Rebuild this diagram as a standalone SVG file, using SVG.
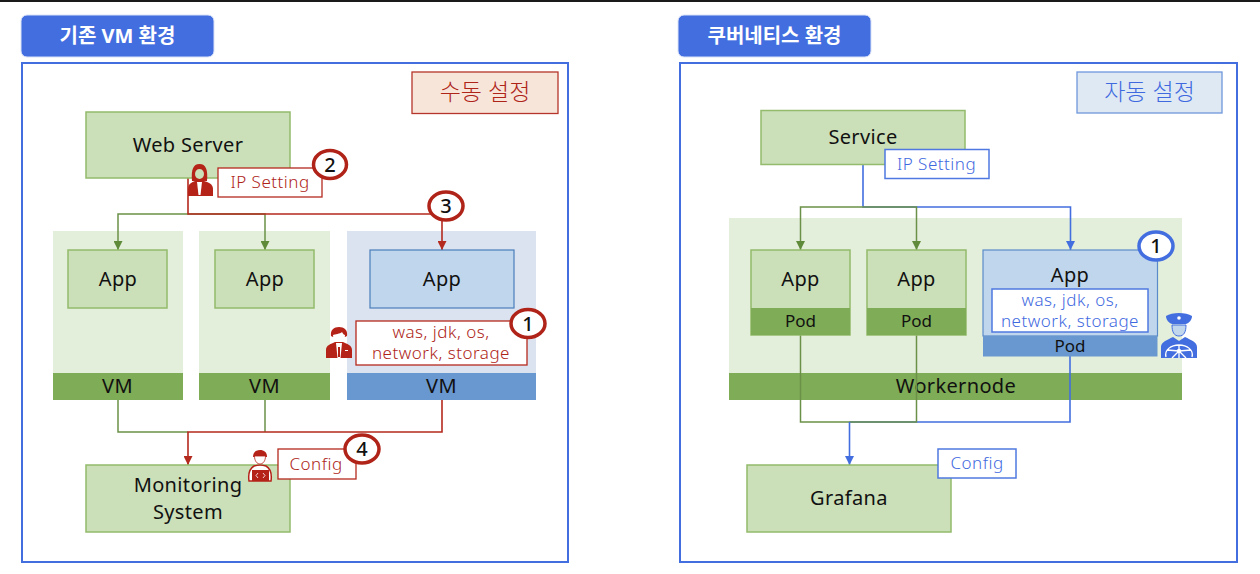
<svg xmlns="http://www.w3.org/2000/svg" width="1260" height="574" viewBox="0 0 1260 574">
<style>
text{font-family:"Noto Sans","Noto Sans CJK KR","Open Sans",sans-serif;text-anchor:middle;fill:#111}
.t{font-size:20px;letter-spacing:.35px}
.tab{fill:#436EE0;stroke:#D9E2F8;stroke-width:1}
.tabt{fill:#fff;font-size:20px;font-weight:700}
.frame{fill:#fff;stroke:#436EE0;stroke-width:2}
.node{fill:#CBDFB9;stroke:#93BB6B;stroke-width:1.5}
.pale{fill:#E3EFDB}
.paleb{fill:#DCE3F0}
.gbar{fill:#7FAC56}
.bbar{fill:#6998D0}
.bluen{fill:#C0D6EC;stroke:#4A7EBB;stroke-width:1.2}
.rb{fill:#fff;stroke:#B52A1E;stroke-width:1.3}
.bb{fill:#fff;stroke:#4F78E0;stroke-width:1.5}
.rt{fill:#AE2418;font-size:17px;letter-spacing:.5px;font-weight:300}
.bt{fill:#3F6ADF;font-size:17px;letter-spacing:.5px;font-weight:300}
.big{font-size:23px;font-weight:300}
.cr{fill:#fff;stroke:#B02318;stroke-width:3.5}
.cb{fill:#fff;stroke:#436EE0;stroke-width:3.5}
.n{font-size:20px;font-weight:500}
.pod{font-size:17px}
.g{fill:none;stroke:#6B9148;stroke-width:1.5}
.r{fill:none;stroke:#B52A1E;stroke-width:1.6}
.b{fill:none;stroke:#436EE0;stroke-width:1.6}
.ir{fill:#B52218}
.ib{fill:#436EE0}
</style>
<defs>
<marker id="ag" markerUnits="userSpaceOnUse" markerWidth="10" markerHeight="9" refX="9" refY="4.5" orient="auto"><path d="M0 0L9 4.500L0 9Z" fill="#5F8A3A"/></marker>
<marker id="ar" markerUnits="userSpaceOnUse" markerWidth="10" markerHeight="9" refX="9" refY="4.500" orient="auto"><path d="M0 0L9 4.500L0 9Z" fill="#B52A1E"/></marker>
<marker id="ab" markerUnits="userSpaceOnUse" markerWidth="10" markerHeight="9" refX="9" refY="4.500" orient="auto"><path d="M0 0L9 4.500L0 9Z" fill="#436EE0"/></marker>
</defs>
<rect width="1260" height="574" fill="#fff"/>
<rect width="1260" height="2" fill="#1A1A1A"/>

<g id="left-tab"><rect class="tab" x="21" y="15" width="193" height="42" rx="6"/><text class="tabt" x="117.500" y="43">기존 VM 환경</text></g>
<g id="left-frame"><rect class="frame" x="22" y="63" width="546" height="499"/></g>
<g id="right-tab"><rect class="tab" x="678" y="15" width="193" height="42" rx="6"/><text class="tabt" x="774.500" y="43">쿠버네티스 환경</text></g>
<g id="right-frame"><rect class="frame" x="680" y="63" width="557" height="499"/></g>

<g id="manual"><rect x="412" y="72" width="146" height="41.500" fill="#F8E5D9" stroke="#B5352A" stroke-width="1.300"/><text class="big" x="485" y="100" style="fill:#AE2418">수동 설정</text></g>
<g id="auto"><rect x="1077" y="72" width="145" height="41" fill="#DEE9F4" stroke="#6F97DC" stroke-width="1.300"/><text class="big" x="1149.500" y="100" style="fill:#3F6ADF">자동 설정</text></g>

<g id="vm1"><rect class="pale" x="53" y="231" width="130" height="169"/><rect class="gbar" x="53" y="373" width="130" height="27"/><text class="t" x="117.500" y="393">VM</text></g>
<g id="vm2"><rect class="pale" x="199" y="231" width="131" height="169"/><rect class="gbar" x="199" y="373" width="131" height="27"/><text class="t" x="264.500" y="393">VM</text></g>
<g id="vm3"><rect class="paleb" x="347" y="231" width="189" height="169"/><rect class="bbar" x="347" y="373" width="189" height="27"/><text class="t" x="441.500" y="393">VM</text></g>
<g id="workernode"><rect class="pale" x="729" y="218" width="453" height="182"/><rect class="gbar" x="729" y="373" width="453" height="27"/><text class="t" x="956" y="393">Workernode</text></g>

<g id="connectors">
<path class="g" d="M188 214H118V250" marker-end="url(#ag)"/>
<path class="g" d="M188 214H265V250" marker-end="url(#ag)"/>
<path class="r" d="M188 178V214H442V250" marker-end="url(#ar)"/>
<path class="g" d="M118 400V432H188"/>
<path class="g" d="M265 400V432"/>
<path class="r" d="M442 400V432H188V465" marker-end="url(#ar)"/>
<path class="b" d="M863 164V207H1070.500V250" marker-end="url(#ab)"/>
<path class="g" d="M863 207H800.500V250" marker-end="url(#ag)"/>
<path class="g" d="M863 207H916.500V250" marker-end="url(#ag)"/>
<path class="b" d="M849.500 422H1070V356"/>
<path class="g" d="M800.500 335V422H916.500V335"/>
<path class="b" d="M849.500 422V465" marker-end="url(#ab)"/>
</g>

<g id="web-server"><rect class="node" x="86" y="112" width="204" height="66"/><text class="t" x="188" y="152">Web Server</text></g>
<g id="app1"><rect class="node" x="68" y="250" width="99" height="58"/><text class="t" x="118" y="286">App</text></g>
<g id="app2"><rect class="node" x="215" y="250" width="99" height="58"/><text class="t" x="265" y="286">App</text></g>
<g id="app3"><rect class="bluen" x="370" y="250" width="144" height="58"/><text class="t" x="442" y="286">App</text></g>
<g id="monitoring"><rect class="node" x="86" y="465" width="204" height="67"/><text class="t" x="188" y="492">Monitoring</text><text class="t" x="188" y="519">System</text></g>

<g id="service"><rect class="node" x="761" y="110.500" width="204" height="54"/><text class="t" x="863" y="144">Service</text></g>
<g id="pod1"><rect class="node" x="751" y="250" width="99" height="85"/><rect class="gbar" x="751" y="308" width="99" height="27"/><text class="t" x="800.500" y="286">App</text><text class="pod" x="800.500" y="327">Pod</text></g>
<g id="pod2"><rect class="node" x="867" y="250" width="99" height="85"/><rect class="gbar" x="867" y="308" width="99" height="27"/><text class="t" x="916.500" y="286">App</text><text class="pod" x="916.500" y="327">Pod</text></g>
<g id="pod3"><rect x="983" y="250" width="174.500" height="86" fill="#C0D6EC" stroke="#5B8AC8" stroke-width="1.200"/><rect class="bbar" x="983" y="336" width="174.500" height="20.500"/><text class="t" x="1070" y="282">App</text><text class="pod" x="1070" y="352">Pod</text>
<rect class="bb" x="992" y="289" width="156" height="43"/><text class="bt" x="1070" y="306">was, jdk, os,</text><text class="bt" x="1070" y="327">network, storage</text></g>
<g id="grafana"><rect class="node" x="747" y="465" width="204" height="67"/><text class="t" x="849" y="505">Grafana</text></g>

<g id="ip-left"><rect class="rb" x="218" y="168" width="104" height="29"/><text class="rt" x="270" y="188">IP Setting</text></g>
<g id="sw-left"><rect class="rb" x="356" y="321" width="171" height="44"/><text class="rt" x="441" y="338">was, jdk, os,</text><text class="rt" x="441" y="359">network, storage</text></g>
<g id="config-left"><rect class="rb" x="278" y="449" width="78" height="30"/><text class="rt" x="316" y="470">Config</text></g>
<g id="ip-right"><rect class="bb" x="885" y="149.500" width="104" height="29"/><text class="bt" x="936.500" y="170">IP Setting</text></g>
<g id="config-right"><rect class="bb" x="938" y="449" width="78" height="29"/><text class="bt" x="977" y="469">Config</text></g>

<g id="badge-2"><ellipse class="cr" cx="330" cy="164.500" rx="16.500" ry="14"/><text class="n" x="330" y="171.500">2</text></g>
<g id="badge-3"><ellipse class="cr" cx="446" cy="206" rx="17" ry="14"/><text class="n" x="446" y="213">3</text></g>
<g id="badge-1"><ellipse class="cr" cx="528" cy="323.500" rx="17" ry="14"/><text class="n" x="528" y="330.500">1</text></g>
<g id="badge-4"><ellipse class="cr" cx="362" cy="449" rx="17" ry="14"/><text class="n" x="362" y="456">4</text></g>
<g id="badge-r1"><ellipse class="cb" cx="1156" cy="246" rx="17" ry="14"/><text class="n" x="1156" y="253">1</text></g>

<g id="person-woman">
<path class="ir" d="M192 181C191 170 193 164 199.500 164C206 164 208 170 207 181Z"/>
<ellipse cx="199.500" cy="174" rx="4.500" ry="5" fill="#CBDFB9"/>
<path class="ir" d="M188 196V189C188 184 192 182 195 181H204C208 182 213 184 213 189V196Z"/>
<path d="M197 182H202L200.500 195H198.500Z" fill="#fff"/>
</g>
<g id="person-man">
<path class="ir" d="M331 336C330 330 334 327 339 327C344 327 348 330 347 336L345 337H333Z"/>
<path d="M333 335C335 334 340 334 342 332C343 334 344 335 345 335C345 339 342 342 339 342C336 342 333 339 333 335Z" fill="#fff"/>
<path class="ir" d="M326 358V350C326 345 331 344 335 342H343C347 344 352 345 352 350V358Z"/>
<path d="M336 343H342L340.500 358H337.500Z" fill="#fff"/>
<rect class="ir" x="338" y="347" width="2" height="10"/>
<rect x="345" y="350" width="3" height="1" fill="#fff"/>
</g>
<g id="person-dev">
<path class="ir" d="M253 457C253 452 256 450 260 450C264 450 267 452 267 457Z"/>
<path d="M254.500 456H265.500C265.500 461 263 464 260 464C257 464 254.500 461 254.500 456Z" fill="#fff" stroke="#B52218" stroke-width=".8"/>
<path d="M249 481C248 474 249 469 254 466C257 465 263 465 266 466C271 469 272 474 271 481Z" fill="#fff" stroke="#B52218" stroke-width="1.500"/>
<rect class="ir" x="252" y="470" width="17" height="11"/>
<path d="M258 473L256 475.500L258 478M263 473L265 475.500L263 478" fill="none" stroke="#fff" stroke-width=".8"/>
</g>
<g id="person-captain">
<path class="ib" d="M1166 316C1172 312 1186 312 1192 316C1192 320 1189 323 1186 324H1172C1169 323 1166 320 1166 316Z"/>
<circle cx="1179" cy="318" r="1.800" fill="#fff"/>
<path d="M1172 325H1186C1186 332 1184 336 1179 336C1174 336 1172 332 1172 325Z" fill="#C0D6EC" stroke="#436EE0" stroke-width="1"/>
<path class="ib" d="M1161 358V347C1161 342 1167 340 1173 337L1179 341L1185 337C1191 340 1197 342 1197 347V358Z"/>
<path d="M1166 357C1164 350 1171 345 1179 345C1187 345 1194 350 1192 357M1179 345V358M1167 350L1179 351L1191 350M1172 358L1179 351L1186 358" fill="none" stroke="#fff" stroke-width="1.300"/>
<circle cx="1179" cy="351" r="2.200" fill="#fff"/>
</g>
</svg>
